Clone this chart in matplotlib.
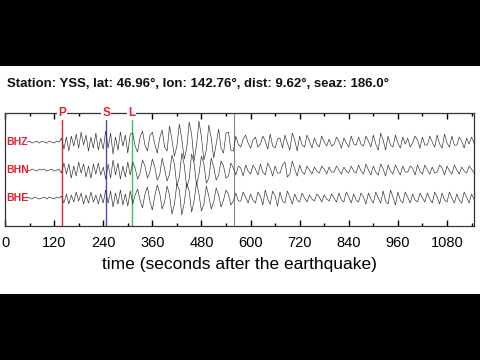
import numpy as np
import matplotlib
matplotlib.use("Agg")
import matplotlib.pyplot as plt
from matplotlib.patches import Rectangle
from matplotlib.ticker import MultipleLocator

plt.rcParams['font.family'] = ['Liberation Sans', 'DejaVu Sans']

title = "Station: YSS, lat: 46.96°, lon: 142.76°, dist: 9.62°, seaz: 186.0°"
xlabel = "time (seconds after the earthquake)"
channels = ["BHZ", "BHN", "BHE"]
start_time = 54.0      # s, first sample
sample_dt = 6.0        # s, sample interval (decimated)

phase_names = ["P", "S", "L"]
phase_times = [139, 247, 310]
phase_colors = ["#e8202a", "#4a4ac8", "#3cc060"]
marker_time = 559

# decimated amplitudes (arbitrary counts)
bhz = [0,1,-1,0,1,-1,1,0,-1,1,0,-1,1,0,
       4,-7,5,-9,6,-4,8,-6,10,-3,7,-9,5,-6,9,-8,4,-7,
       11,-6,9,-12,5,-8,10,-4,7,-11,8,
       9,-4,-10,5,11,-3,-9,6,
       10,-2,-11,4,12,-5,-9,
       16,2,-14,-4,18,3,
       -17,-6,20,8,-19,-3,21,5,-18,-8,17,4,-16,-2,
       13,-6,-11,9,10,-8,-9,
       6,-2,-5,3,7,-1,-6,2,5,-5,
       -2,6,1,-7,8,-4,-6,3,4,-6,
       7,-1,-8,9,2,-9,6,-3,-5,7,
       1,-6,4,-2,-5,6,0,-4,3,-4,
       -2,5,1,-6,4,-1,-5,6,-2,-3,
       5,-2,-4,6,1,-5,7,-2,-8,9,
       2,-8,6,-3,-5,7,-1,-6,5,-2,
       4,-5,-1,6,2,-6,5,-3,-3,6,
       0,-5,7,-2,-6,8,-1,-5,6,-3,
       -3,5,1,-6,4,-2,5,-1]
bhn = [0,-1,1,0,-1,1,0,1,-1,0,1,-1,0,1,
       -3,7,-4,6,-8,4,-6,8,-3,6,-7,4,-8,6,-4,7,-5,3,
       -9,6,-8,10,-5,7,-9,4,-7,8,-5,
       8,2,-9,-3,10,4,-8,-2,
       11,3,-10,-5,12,1,-11,
       -4,15,6,-16,-7,17,
       5,-18,-9,16,7,-15,-4,14,6,-13,-8,12,3,-10,
       -5,9,4,-8,-6,7,2,
       -5,4,2,-6,5,-1,-4,5,1,-5,
       6,-2,-5,7,2,-6,4,-3,-3,5,
       8,-7,-4,9,1,-6,5,-2,-4,4,
       0,-4,3,-1,-3,4,1,-4,3,-2,
       -2,4,0,-4,3,-1,-3,4,-1,-3,
       5,-1,-4,6,0,-5,4,-2,-5,6,
       1,-6,5,-1,-4,5,0,-5,4,-2,
       -2,4,2,-5,5,-1,-4,5,0,-4,
       3,-3,-2,5,2,-5,4,-1,-4,5,
       0,-4,3,-1,-3,4,1,-3]
bhe = [1,0,-1,1,0,-1,0,1,-1,1,0,-1,1,0,
       2,-5,4,-6,3,-4,6,-3,5,-6,3,-5,6,-4,3,-6,4,-5,
       8,-5,7,-9,5,-6,8,-7,4,-8,7,
       -6,3,9,-2,-10,4,11,-3,
       -12,2,13,5,-11,-4,12,
       3,-16,-6,14,8,-17,
       -5,15,7,-14,-3,16,4,-13,-6,12,2,-11,-4,10,
       3,-9,-2,8,4,-7,-3,
       5,-3,-3,6,1,-5,4,-2,-5,6,
       2,-7,8,-1,-6,7,2,-8,6,-3,
       -5,7,1,-6,4,-2,-4,5,0,-4,
       3,-1,-3,4,1,-4,3,-1,-3,4,
       0,-4,5,-2,-4,6,1,-5,4,-2,
       -4,5,1,-6,5,-1,-5,6,0,-5,
       7,-3,-6,8,1,-7,6,-2,-5,6,
       1,-5,4,-2,-4,5,0,-4,5,-1,
       -5,6,1,-6,5,-2,-4,6,0,-5,
       4,-2,-5,6,1,-5,4,-1]
traces = [bhz, bhn, bhe]

fig = plt.figure(figsize=(4.8, 3.6), dpi=100)
fig.patch.set_facecolor("white")
# letterbox bands
fig.patches.append(Rectangle((0, 1 - 66/360), 1, 66/360, transform=fig.transFigure,
                             facecolor="black", edgecolor="none", zorder=0))
fig.patches.append(Rectangle((0, 0), 1, 66/360, transform=fig.transFigure,
                             facecolor="black", edgecolor="none", zorder=0))

ax = fig.add_axes([5/480, (360-226)/360, (474-5)/480, (226-113)/360])
ax.set_xlim(0, 1146)
ax.set_ylim(0, 4.04)

scale = 1/28.0
for k, (name, tr) in enumerate(zip(channels, traces)):
    tr = np.asarray(tr, float)
    t = start_time + sample_dt*np.arange(len(tr))
    off = 3 - k
    ax.plot(t, off + tr*scale, color="#2a2a2a", lw=0.45, zorder=3)
    ax.text(2, off, name, color="#e8202a", fontsize=7.5, fontweight="bold",
            va="center", ha="left", zorder=4)

for name, pt, col in zip(phase_names, phase_times, phase_colors):
    ax.plot([pt, pt], [0, 3.86], color=col, lw=1.0, zorder=2)
    ax.text(pt, 4.04, name, color="#e8202a", fontsize=8.5, fontweight="bold",
            ha="center", va="center", zorder=5, clip_on=False,
            bbox=dict(facecolor="white", edgecolor="none", pad=0.6))
ax.axvline(marker_time, color="#888888", lw=0.8, zorder=2)

ax.xaxis.set_major_locator(MultipleLocator(120))
ax.xaxis.set_minor_locator(MultipleLocator(60))
ax.tick_params(axis="x", which="both", direction="in", top=True, bottom=True,
               labelsize=10.5, pad=7, color="black")
ax.tick_params(axis="x", which="major", length=4, width=1)
ax.tick_params(axis="x", which="minor", length=2, width=1)
ax.set_yticks([])
for s in ax.spines.values():
    s.set_linewidth(0.9)
    s.set_color("#333333")
ax.set_xlabel(xlabel, fontsize=12.5, labelpad=5)

fig.text(7/480, 1 - 84/360, title, fontsize=9.5, fontweight="bold",
         ha="left", va="center", color="#111111")

fig.savefig("out.png", dpi=100)
